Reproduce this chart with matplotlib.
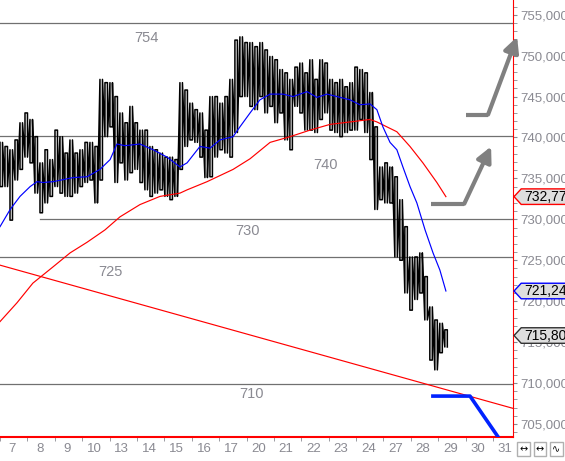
import numpy as np
import matplotlib
matplotlib.use("Agg")
import matplotlib.pyplot as plt
from matplotlib.patches import Polygon
import matplotlib.transforms as mtransforms

plt.rcParams['font.family'] = ['Liberation Sans', 'DejaVu Sans']

# trading days shown on the x axis
days = [7, 8, 9, 10, 13, 14, 15, 16, 17, 20, 21, 22, 23, 24, 27, 28, 29, 30, 31]
bars_per_day = 5.48

# price range per bar (high / low)
hi = [739.4, 738.9, 738.5, 739.7, 741.8, 743.0, 742.2, 740.1, 736.9, 738.5,
      737.3, 740.9, 740.1, 738.1, 739.7, 738.1, 738.5, 739.4, 739.4, 738.9,
      747.1, 746.7, 746.7, 745.0, 743.0, 741.8, 743.8, 741.8, 740.9, 740.9,
      738.9, 738.5, 738.1, 737.6, 737.6, 737.3, 746.7, 745.8, 744.2, 743.4,
      743.0, 740.9, 745.0, 745.0, 744.2, 745.0, 747.1, 751.9, 752.3, 751.6,
      751.6, 751.1, 751.6, 750.7, 749.9, 749.5, 748.3, 747.9, 747.1, 748.6,
      749.1, 747.9, 749.5, 747.1, 749.5, 749.1, 747.1, 746.7, 747.1, 746.2,
      746.7, 748.6, 748.3, 747.9, 745.5, 741.3, 736.4, 736.9, 736.4, 735.2,
      732.4, 729.1, 725.4, 725.4, 725.9, 723.0, 719.3, 717.7, 717.3, 716.5]
lo = [734.0, 734.0, 729.9, 734.8, 736.1, 737.6, 736.9, 733.2, 730.8, 732.0,
      732.8, 734.0, 733.2, 732.8, 732.8, 733.2, 734.0, 734.5, 734.8, 732.0,
      734.8, 740.1, 741.3, 734.5, 736.9, 734.8, 735.7, 736.1, 734.5, 733.6,
      732.8, 733.2, 733.6, 732.8, 732.4, 732.8, 736.1, 738.9, 739.7, 739.4,
      737.6, 735.1, 735.2, 737.6, 738.5, 738.1, 737.6, 740.6, 745.0, 745.0,
      743.8, 743.4, 745.0, 743.0, 743.8, 741.8, 743.0, 739.7, 738.5, 743.8,
      743.0, 740.9, 740.9, 740.6, 742.2, 743.0, 740.9, 740.6, 740.1, 740.6,
      740.9, 740.9, 742.2, 740.6, 737.3, 731.2, 732.4, 732.0, 732.0, 725.4,
      725.0, 721.0, 718.9, 720.2, 721.0, 717.7, 712.8, 711.6, 713.7, 714.4]
last_price = 715.80

# fast moving average (blue)
ma_fast_t = [0.00, 0.37, 0.73, 1.10, 1.35, 1.57, 1.94, 2.67, 3.18, 3.65, 4.02,
             4.27, 4.56, 5.11, 5.59, 6.10, 6.57, 6.83, 7.30, 7.67, 8.03, 8.51,
             8.76, 9.13, 9.49, 9.86, 10.33, 10.70, 11.21, 11.57, 11.94, 12.30,
             12.78, 13.14, 13.51, 13.76, 13.98, 14.24, 14.49, 14.71, 14.97,
             15.22, 15.52, 15.81, 16.06, 16.28]
ma_fast = [729.1, 731.2, 732.8, 734.0, 734.6, 734.5, 734.6, 735.1, 735.2, 736.1,
           737.3, 739.2, 739.0, 739.2, 738.5, 737.6, 736.4, 736.9, 738.9, 738.7,
           739.7, 740.1, 741.3, 743.0, 744.6, 745.3, 745.3, 745.0, 745.6, 744.9,
           745.3, 745.0, 744.6, 744.0, 744.1, 743.4, 741.3, 739.4, 738.5, 736.4,
           734.0, 732.0, 728.7, 725.9, 723.8, 721.24]

# slow moving average (red)
ma_slow_t = [0.00, 0.62, 1.20, 1.94, 2.56, 3.18, 3.83, 4.38, 5.11, 5.84, 6.57,
             6.83, 7.56, 8.51, 9.13, 9.86, 10.59, 11.32, 12.05, 12.78, 13.51,
             13.76, 14.49, 14.97, 15.44, 15.95, 16.28]
ma_slow = [717.5, 719.8, 722.2, 724.2, 725.9, 727.2, 728.7, 730.3, 731.8, 732.8,
           733.2, 733.6, 734.6, 736.1, 737.4, 739.4, 740.1, 740.9, 741.6, 741.9,
           742.2, 741.9, 740.7, 738.9, 736.9, 734.5, 732.77]

# falling trend line (red)
trend_t = [0.0, 18.73]
trend_v = [724.4, 706.9]

# horizontal levels: value, start day, label position (day, value)
levels = [754.0, 740.2, 730.0, 725.4, 709.9]
level_start = [0.0, 0.0, 1.46, 0.0, 0.0]
level_labels = ['754', '740', '730', '725', '710']
label_pos = [(5.33, 752.2), (11.87, 736.6), (9.05, 728.6), (4.05, 723.6), (9.2, 708.7)]

# gray scenario arrows: start of flat part, corner, arrow tip
arrow1 = [(15.74, 731.9), (16.95, 731.9), (17.93, 738.9)]
arrow2 = [(17.01, 742.8), (17.82, 742.8), (18.88, 752.3)]

# thick blue scenario path
blue_path_t = [15.74, 17.16, 18.27]
blue_path_v = [708.4, 708.4, 703.0]

gray = '#707070'
txt = '#8a8a92'

fig = plt.figure(figsize=(5.65, 4.61), dpi=100)
ax = fig.add_axes([0, 24 / 461, 513 / 565, 437 / 461])
ax.set_xlim(0, 18.73)
ax.set_ylim(703.4, 756.8)

for v, s in zip(levels, level_start):
    ax.plot([s, 18.73], [v, v], color=gray, lw=0.9, zorder=1)
for lab, (lx, ly) in zip(level_labels, label_pos):
    ax.text(lx, ly, lab, color=txt, fontsize=10.5, ha='center', va='center')

# price drawn as a chain of hollow bars: high/low, then low/high, ...
n = len(hi)
t0 = np.arange(n) / bars_per_day
w = 0.5 / bars_per_day
px, py = [], []
for k in range(n):
    a, b = (hi[k], lo[k]) if k % 2 == 0 else (lo[k], hi[k])
    px += [t0[k], t0[k], t0[k] + w, t0[k] + w]
    py += [a, b, b, a]
ax.plot(px, py, color='black', lw=1.1, zorder=3)

ax.plot(ma_slow_t, ma_slow, color='#ff0000', lw=0.85, zorder=4)
ax.plot(ma_fast_t, ma_fast, color='#0000ff', lw=0.85, zorder=4)
ax.plot(trend_t, trend_v, color='#ff0000', lw=0.85, zorder=2)

for a in (arrow1, arrow2):
    ax.plot([a[0][0], a[1][0]], [a[0][1], a[1][1]], color='#808080', lw=3,
            solid_capstyle='butt', zorder=5)
    ax.annotate('', xy=a[2], xytext=a[1], annotation_clip=False,
                arrowprops=dict(arrowstyle='-|>,head_length=0.9,head_width=0.45',
                                color='#808080', lw=3, shrinkA=0, shrinkB=0),
                zorder=5)

ax.plot(blue_path_t, blue_path_v, color='#0022ff', lw=2.6, zorder=5,
        solid_capstyle='butt')

# axes styling
for side in ('left', 'top'):
    ax.spines[side].set_visible(False)
ax.spines['right'].set_color('#ff0000')
ax.spines['bottom'].set_color('#ff0000')
ax.spines['bottom'].set_linewidth(1.5)

ax.yaxis.tick_right()
yt = np.arange(705, 756, 5)
ax.set_yticks(yt)
ax.set_yticklabels([f"{v:.3f}".replace('.', ',') for v in yt])
ax.set_yticks(np.arange(704, 757, 1), minor=True)
ax.tick_params(axis='y', which='both', direction='out', length=3, color=txt,
               labelcolor=txt, labelsize=9.5, pad=2)

# day labels sit in the middle of each day, ticks at day boundaries
ax.set_xticks(np.arange(len(days)) + 0.45)
ax.set_xticklabels([str(d) for d in days])
ax.set_xticks(np.arange(len(days)), minor=True)
ax.tick_params(axis='x', which='minor', direction='out', length=3, color=txt)
ax.tick_params(axis='x', which='major', length=0, labelcolor=txt,
               labelsize=9.5, pad=4)

# value flags on the price scale
blend = mtransforms.blended_transform_factory(ax.transAxes, ax.transData)
flags = [(ma_slow[-1], '#ff0000'), (ma_fast[-1], '#0000ff'), (last_price, '#333333')]
for v, ec in flags:
    h = 0.95
    poly = Polygon([(1.002, v), (1.016, v + h), (1.12, v + h), (1.12, v - h),
                    (1.016, v - h)], closed=True, transform=blend,
                   facecolor='#dedede', edgecolor=ec, lw=1, clip_on=False,
                   zorder=6)
    ax.add_patch(poly)
    ax.text(1.022, v, f"{v:.2f}".replace('.', ','), transform=blend,
            fontsize=10, color='black', va='center', ha='left', zorder=7,
            clip_on=False)

# small buttons at bottom right
for i, sym in enumerate(['↔', '↔', '∿']):
    fig.text((516 + i * 16.5 + 7.5) / 565, 1 - 449 / 461, sym, fontsize=7,
             ha='center', va='center', family='DejaVu Sans',
             bbox=dict(boxstyle='square,pad=0.25', fc='white', ec='#b0b0b0', lw=1))

fig.savefig('out.png', dpi=100)
